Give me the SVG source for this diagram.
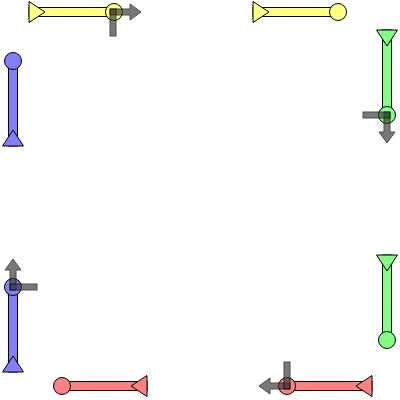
<svg xmlns="http://www.w3.org/2000/svg" xmlns:xlink="http://www.w3.org/1999/xlink" width="400" height="400" viewBox="0 0 400 400">
<style>
.ln rect, .ln path, .ln circle { stroke: #000; stroke-width: 1; }
.ax { fill: #404040; stroke: #000; stroke-width: 1; opacity: 0.7; }
</style>
<defs>
<g id="lineShape" class="ln">
<rect x="0" y="-4.5" width="85" height="9"/>
<path d="M0,-10.5 L16,0 L0,10.5 Z"/>
<circle cx="85" cy="0" r="8.5"/>
</g>
<g id="axisShape">
<path class="ax" d="M-3,-3 L17,-3 L17,-8 L28,0 L17,8 L17,3 L-3,3 Z"/>
<rect class="ax" x="-3" y="-3" width="6" height="27"/>
</g>
</defs>
<rect width="400" height="400" fill="#fff"/>
<g id="yellow-top-left">
<use xlink:href="#lineShape" href="#lineShape" fill="#ffff80" transform="translate(29,12)"/>
<use xlink:href="#axisShape" href="#axisShape" transform="translate(113,12)"/>
</g>
<g id="yellow-top-right">
<use xlink:href="#lineShape" href="#lineShape" fill="#ffff80" transform="translate(253,12)"/>
</g>
<g id="blue-top-left">
<use xlink:href="#lineShape" href="#lineShape" fill="#8080ff" transform="translate(13,146) rotate(-90)"/>
</g>
<g id="green-top-right">
<use xlink:href="#lineShape" href="#lineShape" fill="#80ff80" transform="translate(387,30) rotate(90)"/>
<use xlink:href="#axisShape" href="#axisShape" transform="translate(387,115) rotate(90)"/>
</g>
<g id="blue-bottom-left">
<use xlink:href="#lineShape" href="#lineShape" fill="#8080ff" transform="translate(13,372) rotate(-90)"/>
<use xlink:href="#axisShape" href="#axisShape" transform="translate(13,287) rotate(-90)"/>
</g>
<g id="green-bottom-right">
<use xlink:href="#lineShape" href="#lineShape" fill="#80ff80" transform="translate(387,255) rotate(90)"/>
</g>
<g id="red-bottom-left">
<use xlink:href="#lineShape" href="#lineShape" fill="#ff8080" transform="translate(147,386) rotate(180)"/>
</g>
<g id="red-bottom-right">
<use xlink:href="#lineShape" href="#lineShape" fill="#ff8080" transform="translate(372,386) rotate(180)"/>
<use xlink:href="#axisShape" href="#axisShape" transform="translate(287,386) rotate(180)"/>
</g>
</svg>
